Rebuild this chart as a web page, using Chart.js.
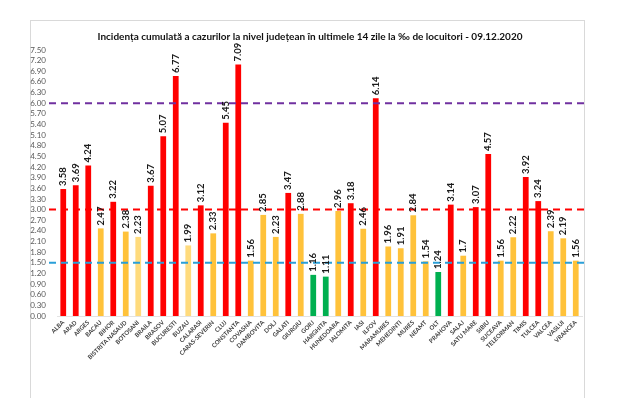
<!DOCTYPE html>
<html>
<head>
<meta charset="utf-8">
<script src="https://cdn.jsdelivr.net/npm/chart.js@4/dist/chart.umd.min.js"></script>
<style>
body { margin: 0; background: #fff; }
</style>
</head>
<body>
<canvas id="ctx" width="620" height="398"></canvas>
<script>
const chartTitle = "Incidența cumulată a cazurilor la nivel județean în ultimele 14 zile la ‰ de locuitori - 09.12.2020";

const counties = ["ALBA", "ARAD", "ARGES", "BACAU", "BIHOR", "BISTRITA NASAUD", "BOTOSANI", "BRAILA", "BRASOV",
  "BUCURESTI", "BUZAU", "CALARASI", "CARAS-SEVERIN", "CLUJ", "CONSTANTA", "COVASNA", "DAMBOVITA", "DOLJ",
  "GALATI", "GIURGIU", "GORJ", "HARGHITA", "HUNEDOARA", "IALOMITA", "IASI", "ILFOV", "MARAMURES", "MEHEDINTI",
  "MURES", "NEAMT", "OLT", "PRAHOVA", "SALAJ", "SATU MARE", "SIBIU", "SUCEAVA", "TELEORMAN", "TIMIS",
  "TULCEA", "VALCEA", "VASLUI", "VRANCEA"];

const incidence = [3.58, 3.69, 4.24, 2.47, 3.22, 2.38, 2.23, 3.67, 5.07,
  6.77, 1.99, 3.12, 2.33, 5.45, 7.09, 1.56, 2.85, 2.23,
  3.47, 2.88, 1.16, 1.11, 2.96, 3.18, 2.46, 6.14, 1.96, 1.91,
  2.84, 1.54, 1.24, 3.14, 1.7, 3.07, 4.57, 1.56, 2.22, 3.92,
  3.24, 2.39, 2.19, 1.56];

// dashed reference levels (value, colour)
const thresholds = [6.0, 3.0, 1.5];
const thresholdColors = ["#7030A0", "#FF0000", "#2A9FD8"];

// a couple of bars are drawn in a paler yellow in the original
const paleCounties = ["BOTOSANI", "BUZAU"];

function barColor(v, i) {
  if (v > 3) return "#FF0000";
  if (v < 1.5) return "#00B050";
  if (paleCounties.indexOf(counties[i]) >= 0) return "#FFDB7D";
  return "#FFC23A";
}

const frame = {
  id: "frame",
  beforeDraw(chart) {
    const c = chart.ctx;
    c.save();
    c.fillStyle = "#fff";
    c.fillRect(0, 0, chart.width, chart.height);
    c.strokeStyle = "#d9d9d9";
    c.lineWidth = 1;
    c.strokeRect(30.5, 20.5, 554, 390);
    c.restore();
  }
};

const titleText = {
  id: "titleText",
  afterDraw(chart) {
    const c = chart.ctx;
    c.save();
    c.font = "bold 10px Lato";
    c.fillStyle = "#111";
    c.textAlign = "center";
    c.textBaseline = "middle";
    c.fillText(chartTitle, 310, 37);
    c.restore();
  }
};

const refLines = {
  id: "refLines",
  afterDatasetsDraw(chart) {
    const c = chart.ctx;
    const y = chart.scales.y;
    const area = chart.chartArea;
    c.save();
    c.lineWidth = 2;
    c.setLineDash([7, 5]);
    thresholds.forEach((t, i) => {
      const py = y.getPixelForValue(t);
      c.strokeStyle = thresholdColors[i];
      c.beginPath();
      c.moveTo(area.left - 8, py);
      c.lineTo(585, py);
      c.stroke();
    });
    c.restore();
  }
};

const valueLabels = {
  id: "valueLabels",
  afterDraw(chart) {
    const c = chart.ctx;
    const meta = chart.getDatasetMeta(0);
    c.save();
    c.font = "bold 9.5px Lato";
    c.fillStyle = "#1a1a1a";
    c.textAlign = "left";
    c.textBaseline = "middle";
    meta.data.forEach((bar, i) => {
      c.save();
      c.translate(bar.x, bar.y - 3);
      c.rotate(-Math.PI / 2);
      c.fillText(String(incidence[i]), 0, 0);
      c.restore();
    });
    c.restore();
  }
};

new Chart("ctx", {
  type: "bar",
  data: {
    labels: counties,
    datasets: [{
      data: incidence,
      backgroundColor: incidence.map(barColor),
      barPercentage: 0.46,
      categoryPercentage: 1
    }]
  },
  options: {
    responsive: false,
    animation: false,
    devicePixelRatio: 1,
    layout: { padding: { left: 28, right: 38, top: 50, bottom: 0 } },
    plugins: {
      legend: { display: false },
      tooltip: { enabled: false }
    },
    scales: {
      x: {
        grid: { display: false, drawTicks: false },
        border: { display: true, color: "#e3e3e3" },
        afterFit: (scale) => { scale.height = 82; },
        ticks: {
          autoSkip: false,
          minRotation: 45,
          maxRotation: 45,
          padding: 3,
          color: "#404040",
          font: { family: "Lato", size: 6, weight: "bold" }
        }
      },
      y: {
        min: 0,
        max: 7.5,
        grid: { display: false },
        border: { display: false },
        afterFit: (scale) => { scale.width = 29; },
        ticks: {
          autoSkip: false,
          stepSize: 0.3,
          padding: 3,
          color: "#595959",
          font: { family: "Lato", size: 8 },
          callback: (v) => Number(v).toFixed(2)
        }
      }
    }
  },
  plugins: [frame, refLines, valueLabels, titleText]
});
</script>
</body>
</html>
